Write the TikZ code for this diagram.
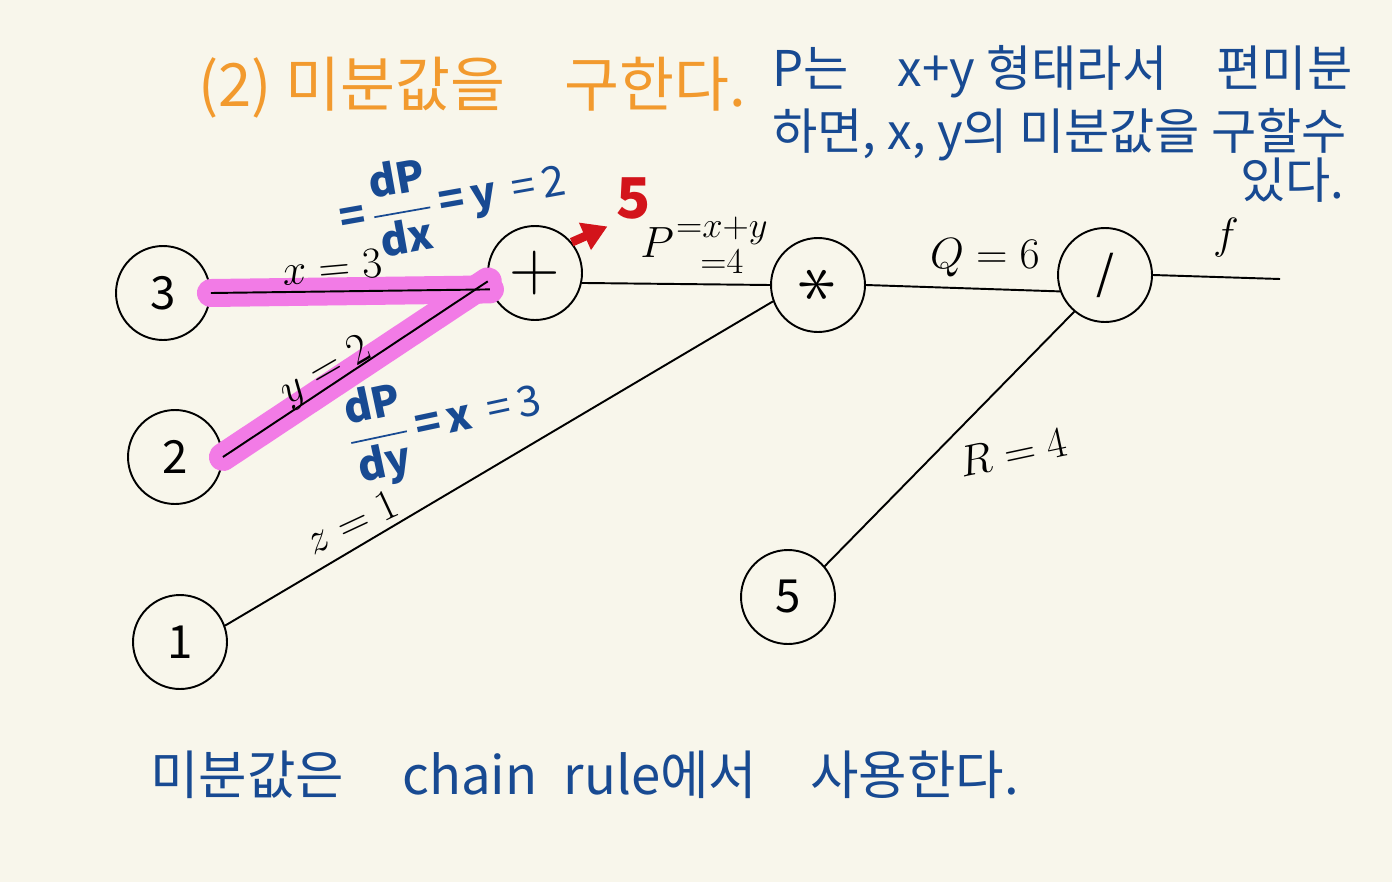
\documentclass[tikz,border=0pt]{standalone}
\usepackage{fontspec}
\setmainfont{Noto Sans CJK KR}
\usepackage{amsmath}
\usetikzlibrary{positioning,arrows.meta}
\definecolor{paper}{HTML}{F8F6EB}
\definecolor{penorange}{HTML}{F29A2E}
\definecolor{penblue}{HTML}{184A92}
\definecolor{penred}{HTML}{D3141B}
\definecolor{marker}{HTML}{F27BE6}
\begin{document}
\begin{tikzpicture}[x=0.02cm,y=-0.02cm,
  gnode/.style={circle,draw,line width=1.1pt,minimum size=1.88cm,inner sep=0pt,font=\fontsize{26}{28}\selectfont},
  wire/.style={line width=1.1pt},
  hilite/.style={line width=0.56cm,color=marker,line cap=round},
  elabel/.style={font=\fontsize{24}{26}\selectfont,inner sep=0pt},
  bluemath/.style={text=penblue,font=\fontsize{24}{26}\selectfont,inner sep=0pt},
  bluenote/.style={text=penblue,font=\fontsize{28}{32}\selectfont,anchor=west,inner sep=0pt}]
  \fill[paper] (0,0) rectangle (1392,882);
  \useasboundingbox (0,0) rectangle (1392,882);
  % titles
  \node[text=penorange,font=\fontsize{34}{38}\selectfont,anchor=west,inner sep=0pt] (title) at (198,88) {(2) 미분값을\quad 구한다.};
  \node[bluenote] (note1) at (772,72) {P는\quad x+y 형태라서\quad 편미분};
  \node[bluenote] (note2) at (772,135) {하면, x, y의 미분값을 구할수};
  \node[bluenote] (note3) at (1240,180) {있다.};
  % graph nodes
  \node[gnode] (n3) at (163,293) {3};
  \node[gnode] (n2) at (175,457) {2};
  \node[gnode] (n1) at (180,642) {1};
  \node[gnode] (plus) at (535,273) {\scalebox{1.6}{$+$}};
  \node[gnode] (times) at (818,285) {\scalebox{1.8}{\rotatebox{90}{$\ast$}}};
  \node[gnode] (div) at (1105,275) {/};
  \node[gnode] (n5) at (788,597) {5};
  \coordinate (fend) at (1280,279);
  % marker
  \draw[hilite] (n3.east) -- (plus.200);
  \draw[hilite] (n2.east) -- (plus.190);
  % wires
  \draw[wire] (n3.east) -- (plus.200);
  \draw[wire] (n2.east) -- (plus.190);
  \draw[wire] (n1.20) -- (times.200);
  \draw[wire] (plus.348) -- (times.west);
  \draw[wire] (times.east) -- (div.200);
  \draw[wire] (n5.40) -- (div.230);
  \draw[wire] (div.east) -- (fend);
  % edge labels
  \node[elabel,rotate=5] (lx) at (332,267) {$x=3$};
  \node[elabel,rotate=30] (ly) at (326,372) {$y=2$};
  \node[elabel,rotate=25] (lz) at (352,522) {$z=1$};
  \node[elabel,font=\fontsize{30}{32}\selectfont] (lp) at (705,245) {$P\genfrac{}{}{0pt}{1}{=x+y}{=4}$};
  \node[elabel] (lq) at (985,258) {$Q=6$};
  \node[elabel,rotate=12] (lr) at (1013,452) {$R=4$};
  \node[elabel] (lf) at (1226,238) {$f$};
  % derivatives
  \node[bluemath,rotate=10] (dpdx) at (452,198) {\bfseries =\,$\dfrac{\textbf{dP}}{\textbf{dx}}$\,=\,y{\mdseries\, =\,2}};
  \node[bluemath,rotate=12] (dpdy) at (445,422) {\bfseries $\dfrac{\textbf{dP}}{\textbf{dy}}$\,=\,x{\mdseries\, =\,3}};
  \node[text=penred,font=\fontsize{32}{34}\selectfont\bfseries] (five) at (634,198) {5};
  \draw[penred,line width=5pt,-{Triangle[length=14pt,width=16pt]},shorten >=2pt] (plus.40) -- (five.south west);
  % footer
  \node[bluenote,font=\fontsize{30}{34}\selectfont] (footer) at (150,775) {미분값은\hspace{1.1em}chain\hspace{0.5em}rule에서\hspace{1em}사용한다.};
\end{tikzpicture}
\end{document}
